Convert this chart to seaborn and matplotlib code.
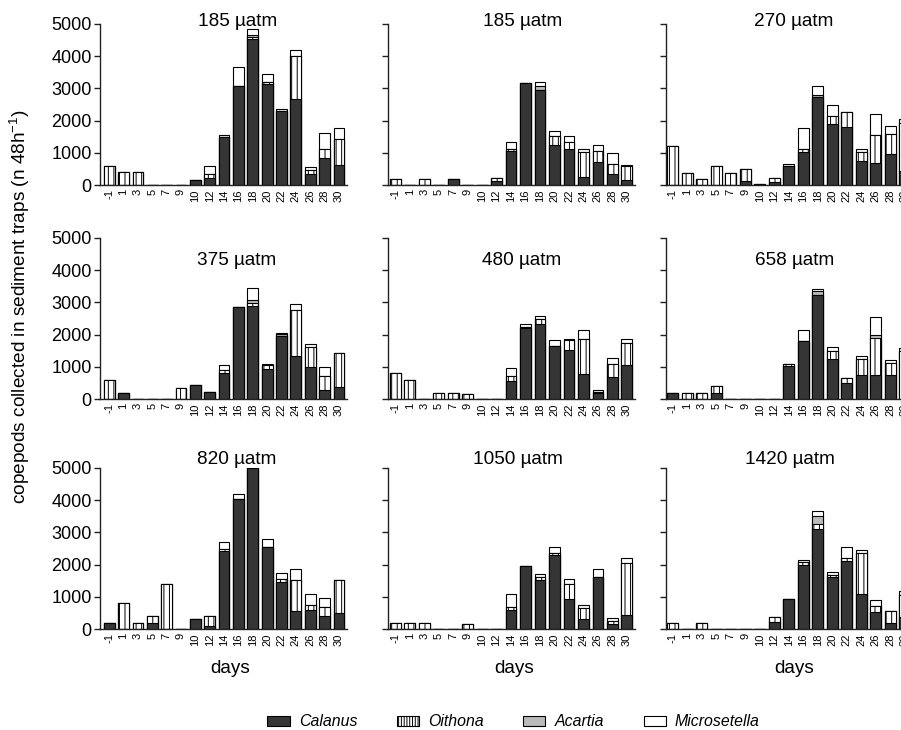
import matplotlib
matplotlib.use("Agg")
import matplotlib.pyplot as plt
import seaborn as sns
import pandas as pd
import numpy as np
from matplotlib.patches import Patch

# ---------------- data ----------------
days = [-1, 1, 3, 5, 7, 9, 10, 12, 14, 16, 18, 20, 22, 24, 26, 28, 30]
titles = ["185 µatm", "185 µatm", "270 µatm",
          "375 µatm", "480 µatm", "658 µatm",
          "820 µatm", "1050 µatm", "1420 µatm"]
species = ["Calanus", "Oithona", "Acartia", "Microsetella"]

# panel 1: 185 µatm
p1_calanus = [0, 0, 0, 0, 0, 0, 150, 220, 1480, 3070, 4520, 3130, 2290, 2680, 340, 840, 620]
p1_oithona = [600, 400, 400, 0, 0, 0, 0, 120, 0, 0, 80, 70, 0, 1320, 120, 280, 810]
p1_acartia = [0, 0, 0, 0, 0, 0, 0, 0, 0, 0, 60, 0, 0, 0, 0, 0, 0]
p1_micro = [0, 0, 0, 0, 0, 0, 0, 240, 60, 580, 170, 240, 80, 190, 110, 500, 330]
# panel 2: 185 µatm
p2_calanus = [0, 0, 0, 0, 180, 0, 0, 110, 1050, 3180, 2940, 1230, 1130, 240, 710, 340, 160]
p2_oithona = [180, 0, 180, 0, 0, 0, 0, 120, 70, 0, 0, 280, 210, 780, 340, 310, 440]
p2_acartia = [0, 0, 0, 0, 0, 0, 0, 0, 0, 0, 120, 0, 0, 0, 0, 0, 0]
p2_micro = [0, 0, 0, 0, 0, 0, 0, 0, 210, 0, 140, 170, 170, 100, 200, 350, 20]
# panel 3: 270 µatm
p3_calanus = [0, 0, 0, 0, 0, 130, 0, 100, 590, 1040, 2730, 1880, 1800, 730, 690, 960, 430]
p3_oithona = [1200, 370, 190, 600, 370, 370, 20, 120, 0, 80, 0, 250, 470, 290, 860, 630, 1500]
p3_acartia = [0, 0, 0, 0, 0, 0, 0, 0, 0, 0, 60, 0, 0, 0, 0, 0, 0]
p3_micro = [0, 0, 0, 0, 0, 0, 0, 0, 60, 660, 280, 370, 0, 100, 640, 250, 130]
# panel 4: 375 µatm
p4_calanus = [0, 190, 0, 0, 0, 0, 420, 210, 820, 2850, 2880, 920, 1950, 1320, 1000, 280, 370]
p4_oithona = [590, 0, 0, 0, 0, 330, 0, 0, 80, 0, 100, 140, 0, 1450, 630, 440, 1070]
p4_acartia = [0, 0, 0, 0, 0, 0, 0, 0, 0, 0, 80, 0, 60, 0, 0, 0, 0]
p4_micro = [0, 0, 0, 0, 0, 0, 0, 0, 150, 0, 380, 30, 50, 190, 80, 280, 0]
# panel 5: 480 µatm
p5_calanus = [0, 0, 0, 0, 0, 0, 0, 0, 550, 2190, 2330, 1650, 1520, 780, 190, 690, 1060]
p5_oithona = [800, 600, 0, 200, 200, 160, 0, 0, 170, 50, 150, 0, 300, 1090, 40, 400, 670]
p5_acartia = [0, 0, 0, 0, 0, 0, 0, 0, 0, 0, 0, 0, 0, 0, 0, 0, 0]
p5_micro = [0, 0, 0, 0, 0, 0, 0, 0, 240, 80, 100, 180, 40, 260, 40, 170, 130]
# panel 6: 658 µatm
p6_calanus = [200, 0, 0, 180, 0, 0, 0, 0, 1030, 1800, 3230, 1230, 510, 760, 760, 740, 0]
p6_oithona = [0, 190, 190, 220, 0, 0, 0, 0, 70, 0, 0, 270, 130, 490, 1130, 370, 1480]
p6_acartia = [0, 0, 0, 0, 0, 0, 0, 0, 0, 0, 130, 0, 0, 0, 100, 0, 0]
p6_micro = [0, 0, 0, 0, 0, 0, 0, 0, 0, 350, 60, 100, 0, 100, 560, 90, 100]
# panel 7: 820 µatm
p7_calanus = [200, 0, 0, 200, 0, 0, 320, 100, 2430, 4030, 5000, 2560, 1470, 570, 600, 390, 510]
p7_oithona = [0, 800, 200, 210, 1400, 0, 0, 310, 40, 0, 0, 0, 90, 940, 130, 280, 1000]
p7_acartia = [0, 0, 0, 0, 0, 0, 0, 0, 0, 0, 0, 0, 0, 0, 0, 0, 0]
p7_micro = [0, 0, 0, 0, 0, 0, 0, 0, 240, 160, 0, 250, 170, 350, 360, 300, 0]
# panel 8: 1050 µatm
p8_calanus = [0, 0, 0, 0, 0, 0, 0, 0, 600, 1970, 1530, 2290, 930, 320, 1600, 150, 440]
p8_oithona = [200, 200, 200, 0, 0, 150, 0, 0, 80, 0, 70, 80, 470, 330, 0, 110, 1600]
p8_acartia = [0, 0, 0, 0, 0, 0, 0, 0, 0, 0, 0, 0, 0, 0, 0, 0, 0]
p8_micro = [0, 0, 0, 0, 0, 0, 0, 0, 410, 0, 100, 170, 150, 100, 260, 80, 160]
# panel 9: 1420 µatm
p9_calanus = [0, 0, 0, 0, 0, 0, 0, 220, 930, 1990, 3100, 1630, 2100, 1100, 520, 190, 360]
p9_oithona = [200, 0, 200, 0, 0, 0, 0, 140, 0, 80, 150, 60, 110, 1260, 180, 360, 710]
p9_acartia = [0, 0, 0, 0, 0, 0, 0, 0, 0, 0, 260, 0, 0, 0, 0, 0, 0]
p9_micro = [0, 0, 0, 0, 0, 0, 0, 0, 0, 60, 150, 90, 330, 100, 210, 0, 120]

panels = [
    (p1_calanus, p1_oithona, p1_acartia, p1_micro),
    (p2_calanus, p2_oithona, p2_acartia, p2_micro),
    (p3_calanus, p3_oithona, p3_acartia, p3_micro),
    (p4_calanus, p4_oithona, p4_acartia, p4_micro),
    (p5_calanus, p5_oithona, p5_acartia, p5_micro),
    (p6_calanus, p6_oithona, p6_acartia, p6_micro),
    (p7_calanus, p7_oithona, p7_acartia, p7_micro),
    (p8_calanus, p8_oithona, p8_acartia, p8_micro),
    (p9_calanus, p9_oithona, p9_acartia, p9_micro),
]

# ---------------- style ----------------
sns.set_style("ticks")
plt.rcParams['font.family'] = ['Liberation Sans', 'DejaVu Sans']
plt.rcParams['mathtext.fontset'] = 'custom'
plt.rcParams['mathtext.rm'] = 'Liberation Sans'
plt.rcParams['mathtext.it'] = 'Liberation Sans:italic'
plt.rcParams['hatch.linewidth'] = 0.7
for key in ('text.color', 'axes.labelcolor', 'xtick.color', 'ytick.color'):
    plt.rcParams[key] = 'black'

CAL_C = "#353535"
ACA_C = "#bababa"
LINE_C = "#222222"

W, Hfig = 901, 730
fig = plt.figure(figsize=(W / 100, Hfig / 100), dpi=100)
col_x = [100, 388, 666]
row_top = [24, 238, 468]
AW, AH = 247, 161
xl_left = [-0.64, -0.5, -0.45]
title_xf = [[0.556, 0.547, 0.518], [0.555, 0.543, 0.52], [0.555, 0.526, 0.50]]
title_yf = [0.988, 0.832, 1.025]
days_xf = [0.526, 0.51, 0.518]

labels = [str(d) for d in days]

for i, (cal, oit, aca, mic) in enumerate(panels):
    r, c = divmod(i, 3)
    ax = fig.add_axes([col_x[c] / W, 1 - (row_top[r] + AH) / Hfig, AW / W, AH / Hfig])
    s1 = np.array(cal, dtype=float)
    s2 = s1 + np.array(oit)
    s3 = s2 + np.array(aca)
    s4 = s3 + np.array(mic)
    layers = [(s4, "white", None), (s3, ACA_C, None), (s2, "white", "|||"), (s1, CAL_C, None)]
    for vals, fc, hatch in layers:
        df = pd.DataFrame({"day": labels, "n": vals})
        sns.barplot(data=df, x="day", y="n", order=labels, color=fc, saturation=1,
                    width=0.75, edgecolor="black", linewidth=0.8, hatch=hatch,
                    errorbar=None, ax=ax)
    ax.set_xlim(xl_left[c], 16.56)
    ax.set_ylim(0, 5000)
    ax.set_yticks(range(0, 5001, 1000))
    ax.set_xlabel("")
    ax.set_ylabel("")
    if c == 0:
        ax.set_yticklabels([str(v) for v in range(0, 5001, 1000)], fontsize=13)
    else:
        ax.set_yticklabels([])
    ax.tick_params(axis="y", length=4, width=1, color=LINE_C, pad=2)
    ax.tick_params(axis="x", length=0, pad=3, labelsize=8, labelrotation=90)
    for lab in ax.get_xticklabels():
        lab.set_verticalalignment("top")
    sns.despine(ax=ax)
    for sp in ("left", "bottom"):
        ax.spines[sp].set_color(LINE_C)
        ax.spines[sp].set_linewidth(1.0)
    ax.text(title_xf[r][c], title_yf[r], titles[i], transform=ax.transAxes,
            ha="center", va="baseline", fontsize=13.7)
    if r == 2:
        ax.text(days_xf[c], -0.273, "days", transform=ax.transAxes,
                ha="center", va="baseline", fontsize=13.6)

fig.text(20 / W, 1 - 307 / Hfig, r"copepods collected in sediment traps (n 48h$^{-1}$)",
         rotation=90, ha="center", va="center", fontsize=13.7)

handles = [
    Patch(facecolor=CAL_C, edgecolor="black", linewidth=0.8),
    Patch(facecolor="white", edgecolor="black", hatch="||||||", linewidth=0.8),
    Patch(facecolor=ACA_C, edgecolor="black", linewidth=0.8),
    Patch(facecolor="white", edgecolor="black", linewidth=0.8),
]
fig.legend(handles, species, loc="center", bbox_to_anchor=(0.570, 1 - 722 / Hfig),
           ncol=4, frameon=False, prop={"style": "italic", "size": 11.4},
           handlelength=1.4, handleheight=0.6, handletextpad=0.57,
           columnspacing=2.5, borderaxespad=0, borderpad=0)

fig.savefig("out.png", dpi=100)
